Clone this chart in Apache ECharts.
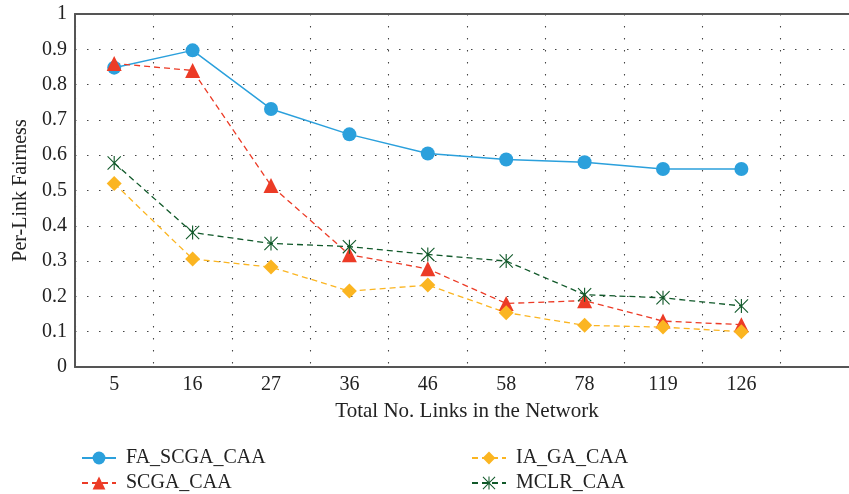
<!DOCTYPE html>
<html>
<head>
<meta charset="utf-8">
<script src="https://cdn.jsdelivr.net/npm/echarts@6/dist/echarts.min.js"></script>
<style>
  html, body { margin: 0; padding: 0; background: #fff; }
  #main { width: 849px; height: 494px; }
</style>
</head>
<body>
<div id="main"></div>
<script>
// data
var links = ["5", "16", "27", "36", "46", "58", "78", "119", "126", ""];
var yTicks = [0, 0.1, 0.2, 0.3, 0.4, 0.5, 0.6, 0.7, 0.8, 0.9, 1];
var faScga = [0.848, 0.897, 0.731, 0.659, 0.605, 0.588, 0.580, 0.561, 0.561];
var scga = [0.860, 0.840, 0.514, 0.318, 0.278, 0.180, 0.188, 0.130, 0.120];
var iaGa = [0.520, 0.306, 0.283, 0.215, 0.232, 0.154, 0.118, 0.113, 0.100];
var mclr = [0.578, 0.381, 0.350, 0.341, 0.319, 0.300, 0.205, 0.196, 0.173];

var FONT = "Liberation Serif";
var asterisk = "path://M9.2 0 L10.8 0 L10.8 20 L9.2 20 Z M0 1.1 L1.1 0 L20 18.9 L18.9 20 Z M18.9 0 L20 1.1 L1.1 20 L0 18.9 Z";

var myChart = echarts.init(document.getElementById("main"));

var mkSeries = function (name, data, color, symbol, size, dashed) {
    return {
        name: name,
        type: "line",
        data: data,
        symbol: symbol,
        symbolSize: size,
        showSymbol: true,
        animation: false,
        itemStyle: { color: color },
        lineStyle: { color: color, width: dashed ? 1.3 : 1.5, type: dashed ? [6, 4] : "solid" }
    };
};

var mkLegend = function (name, left, top) {
    return {
        data: [name],
        left: left, top: top,
        itemWidth: 34, itemHeight: 16,
        textStyle: { fontFamily: FONT, fontSize: 20, color: "#222", padding: [0, 0, 0, 5] }
    };
};

var option = {
    animation: false,
    grid: {
        left: 75, top: 14, width: 784, bottom: 127,
        outerBoundsMode: "none"
    },
    legend: [
        mkLegend("FA_SCGA_CAA", 76, 443),
        mkLegend("SCGA_CAA", 76, 468),
        mkLegend("IA_GA_CAA", 466, 443),
        mkLegend("MCLR_CAA", 466, 468)
    ],
    xAxis: [
        {
            type: "category",
            data: links,
            boundaryGap: true,
            name: "Total No. Links in the Network",
            nameLocation: "middle",
            nameGap: 34,
            nameTextStyle: { fontFamily: FONT, fontSize: 21, color: "#222" },
            axisLine: { lineStyle: { color: "#555", width: 2 } },
            axisTick: { show: false },
            axisLabel: { fontFamily: FONT, fontSize: 20, color: "#222", margin: 8 },
            splitLine: { show: true, lineStyle: { color: "#444", width: 1.1, type: [1.5, 10.5] } }
        },
        {
            // top frame line only
            type: "category",
            data: links,
            position: "top",
            axisLine: { show: true, lineStyle: { color: "#555", width: 2 } },
            axisTick: { show: false },
            axisLabel: { show: false },
            splitLine: { show: false }
        }
    ],
    yAxis: {
        type: "value",
        min: 0, max: 1, interval: 0.1,
        name: "Per-Link Fairness",
        nameLocation: "middle",
        nameGap: 40,
        nameTextStyle: { fontFamily: FONT, fontSize: 20, color: "#222" },
        axisLine: { show: true, lineStyle: { color: "#555", width: 2 } },
        axisTick: { show: false },
        axisLabel: {
            fontFamily: FONT, fontSize: 20, color: "#222", margin: 8,
            formatter: function (v) {
                for (var i = 0; i < yTicks.length; i++) {
                    if (Math.abs(yTicks[i] - v) < 1e-6) return String(yTicks[i]);
                }
                return "";
            }
        },
        splitLine: { show: true, lineStyle: { color: "#444", width: 1.1, type: [1.5, 10.5] } }
    },
    series: [
        mkSeries("FA_SCGA_CAA", faScga, "#2ba0dc", "circle", 14, false),
        mkSeries("SCGA_CAA", scga, "#ec3b26", "triangle", 15, true),
        mkSeries("IA_GA_CAA", iaGa, "#fbb521", "diamond", 15, true),
        mkSeries("MCLR_CAA", mclr, "#11592a", asterisk, 14, true)
    ]
};
myChart.setOption(option);
</script>
</body>
</html>
